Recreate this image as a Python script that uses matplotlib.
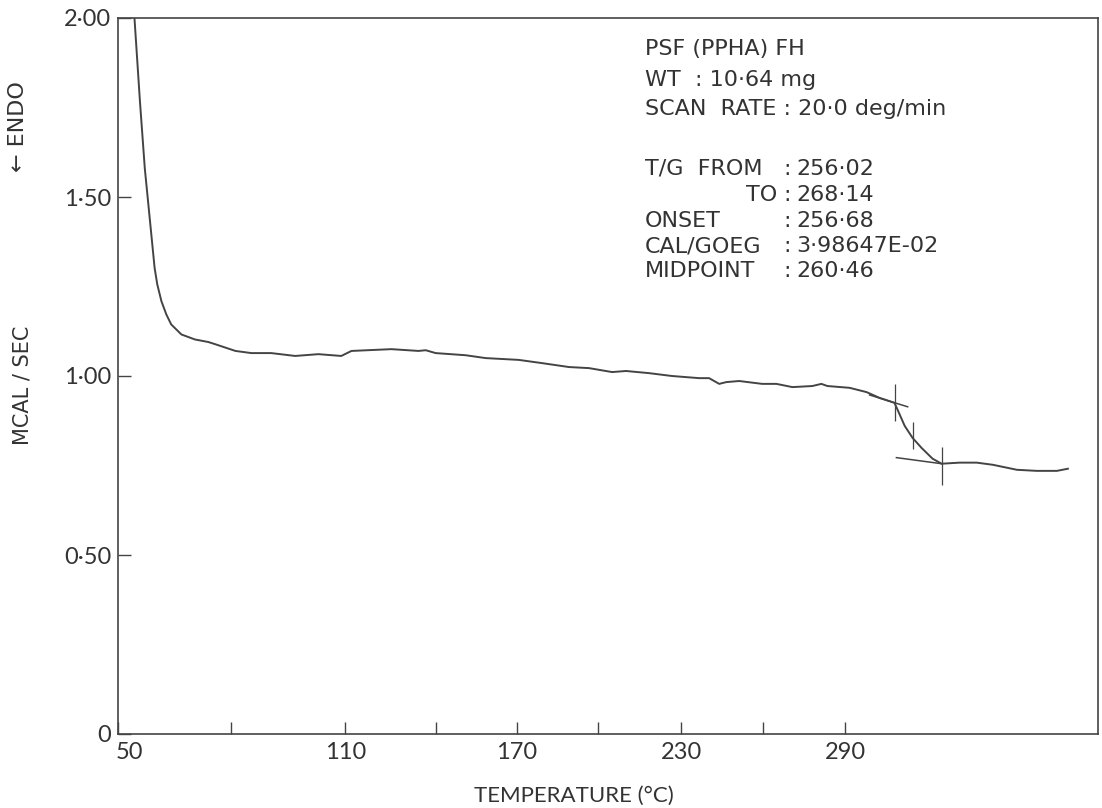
import numpy as np
import matplotlib
matplotlib.use("Agg")
import matplotlib.pyplot as plt

# DSC trace (temperature in deg C, heat flow in mcal/s)
temp = [54.3, 55.8, 57.1, 58.4, 59.7, 60.4, 61.5, 62.8, 64.1, 66.8, 70.4, 73.9,
        75.7, 81.1, 85.3, 90.5, 96.8, 102.9, 108.9, 112.0, 125.3, 134.3, 136.7,
        140.0, 151.1, 158.5, 170.7, 179.3, 189.3, 196.7, 205.1, 210.1, 218.4,
        226.7, 236.6, 240.2, 243.9, 246.5, 251.2, 259.6, 264.8, 270.6, 277.9,
        281.2, 283.4, 291.5, 297.7, 302.4, 307.9, 309.7, 311.6, 314.5, 317.8,
        321.8, 325.1, 331.7, 337.9, 343.8, 352.6, 359.9, 367.2, 371.2]
heat = [2.01, 1.769, 1.580, 1.441, 1.302, 1.256, 1.209, 1.172, 1.144, 1.116, 1.102, 1.095,
        1.089, 1.070, 1.064, 1.064, 1.056, 1.061, 1.056, 1.070, 1.075, 1.070, 1.072,
        1.064, 1.058, 1.050, 1.045, 1.036, 1.025, 1.022, 1.011, 1.014, 1.008,
        1.000, 0.994, 0.994, 0.978, 0.983, 0.986, 0.978, 0.978, 0.969, 0.972,
        0.978, 0.972, 0.967, 0.955, 0.939, 0.925, 0.894, 0.861, 0.827, 0.799,
        0.769, 0.755, 0.758, 0.758, 0.752, 0.738, 0.735, 0.735, 0.741]

# glass transition construction lines
upper_tan_t = [298.8, 312.7]
upper_tan_v = [0.947, 0.914]
lower_tan_t = [308.6, 325.1]
lower_tan_v = [0.772, 0.755]
mark_t = [307.9, 314.5, 325.1]
mark_lo = [0.875, 0.797, 0.696]
mark_hi = [0.978, 0.872, 0.802]

major_x = [50, 110, 170, 230, 290]
major_lab = ["", "110", "170", "230", "290"]
minor_x = [80, 140, 200, 260]
y_ticks = [0, 0.5, 1.0, 1.5, 2.0]
y_lab = ["0", "0\u00b750", "1\u00b700", "1\u00b750", "2\u00b700"]

# the printed temperature axis is not evenly spaced: calibrate it
cal_t = [0, 50, 80, 110, 140, 170, 200, 230, 260, 290, 500]
cal_p = [-68, 120, 233, 347, 437, 518, 599, 682, 764, 846, 1420]


def fwd(x):
    return np.interp(x, cal_t, cal_p)


def inv(p):
    return np.interp(p, cal_p, cal_t)


ink = "#444444"
txt = "#333333"
plt.rcParams["font.family"] = ["Lato", "DejaVu Sans"]

fig = plt.figure(figsize=(11.02, 8.08), dpi=100)
ax = fig.add_axes([118 / 1102, 74 / 808, 980 / 1102, 716 / 808])
ax.set_xscale("function", functions=(fwd, inv))
ax.set_xlim(50, 382.2)
ax.set_ylim(0, 2.0)

ax.plot(temp, heat, color=ink, lw=1.4, solid_joinstyle="round")
ax.plot(upper_tan_t, upper_tan_v, color=ink, lw=1.1)
ax.plot(lower_tan_t, lower_tan_v, color=ink, lw=1.1)
ax.vlines(mark_t, mark_lo, mark_hi, color=ink, lw=0.9)

for s in ax.spines.values():
    s.set_color(ink)
    s.set_linewidth(1.2)

ax.set_xticks(major_x)
ax.set_xticklabels(major_lab)
ax.set_xticks(minor_x, minor=True)
ax.set_yticks(y_ticks)
ax.set_yticklabels(y_lab)
ax.tick_params(axis="both", which="both", direction="in", length=9,
               width=1.0, color=ink, labelcolor=txt, labelsize=17)
ax.tick_params(axis="x", pad=6)
ax.tick_params(axis="y", pad=5)
ax.annotate("50", xy=(50, 0), xytext=(8, -6), textcoords="offset points",
            ha="center", va="top", fontsize=17, color=txt)

ax.set_xlabel("TEMPERATURE (\u00b0C)", fontsize=16, color=txt)
ax.xaxis.set_label_coords((574 - 118) / 980, -0.072)
fig.text(23 / 1102, 1 - 385 / 808, "MCAL / SEC", rotation=90, ha="center",
         va="center", fontsize=15, color=txt, family="DejaVu Sans")
fig.text(18 / 1102, 1 - 127 / 808, "\u2190 ENDO", rotation=90, ha="center",
         va="center", fontsize=16, color=txt, family="DejaVu Sans")


def put(px, py, s, ha="left"):
    fig.text(px / 1102, 1 - py / 808, s, ha=ha, va="center", fontsize=16,
             color=txt, family="DejaVu Sans")


put(645, 49, "PSF (PPHA) FH")
put(645, 80, "WT  : 10\u00b764 mg")
put(645, 109, "SCAN  RATE : 20\u00b70 deg/min")

rows = [("T/G  FROM", "256\u00b702", 169), ("TO", "268\u00b714", 195),
        ("ONSET", "256\u00b768", 221), ("CAL/GOEG", "3\u00b798647E-02", 246),
        ("MIDPOINT", "260\u00b746", 271)]
for lab, val, py in rows:
    if lab == "TO":
        put(777, py, lab, ha="right")
    else:
        put(645, py, lab)
    put(787, py, ":", ha="center")
    put(796, py, val)

fig.savefig("out.png", dpi=100)
